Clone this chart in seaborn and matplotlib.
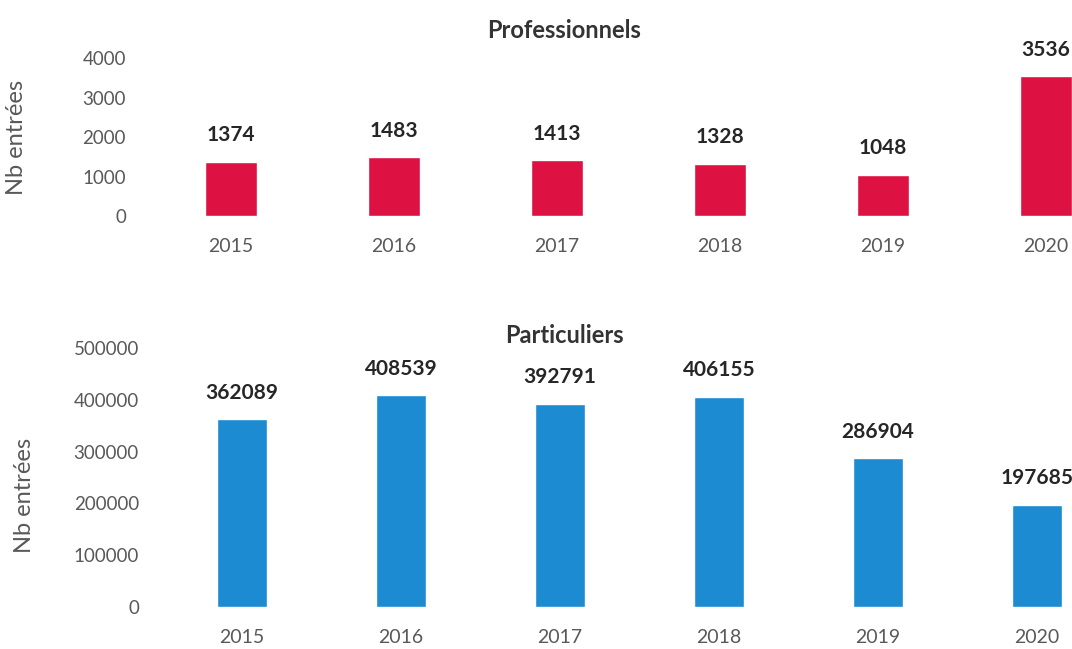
import matplotlib
matplotlib.use("Agg")
import matplotlib.pyplot as plt
import seaborn as sns

years = ["2015", "2016", "2017", "2018", "2019", "2020"]
pro_values = [1374, 1483, 1413, 1328, 1048, 3536]
part_values = [362089, 408539, 392791, 406155, 286904, 197685]
pro_ticks = [0, 1000, 2000, 3000, 4000]
part_ticks = [0, 100000, 200000, 300000, 400000, 500000]

sns.set_theme(style="white")
plt.rcParams['font.family'] = ['Lato', 'DejaVu Sans']

W, H = 1072, 649
fig = plt.figure(figsize=(W / 100, H / 100), dpi=100)

RED = "#DE1242"
BLUE = "#1C8BD2"
TICK = "#595959"
DARK = "#262626"


def make_axes(left_px, top_px, bottom_px, spacing_px):
    ax = fig.add_axes([left_px / W, 1 - bottom_px / H, (W - left_px) / W, (bottom_px - top_px) / H])
    return ax, -0.5 + (W - left_px) / spacing_px


def draw(ax, xmax, values, ticks, color, title, title_y, ylab_xy, width):
    sns.barplot(x=years, y=values, color=color, width=width, ax=ax, saturation=1)
    ax.set_xlim(-0.5, xmax)
    ax.set_ylim(ticks[0], ticks[-1])
    ax.set_yticks(ticks)
    ax.set_yticklabels([str(t) for t in ticks])
    for s in ax.spines.values():
        s.set_visible(False)
    ax.tick_params(axis="y", length=0, pad=17, labelsize=13.5, labelcolor=TICK)
    ax.tick_params(axis="x", length=0, pad=16, labelsize=14, labelcolor=TICK)
    ax.set_xlabel("")
    ax.set_ylabel("Nb entrées", fontsize=17, color=TICK)
    ax.yaxis.set_label_coords(*ylab_xy)
    for i, v in enumerate(values):
        ax.annotate(str(v), xy=(i, v), xytext=(0, 19), textcoords="offset points",
                    ha="center", va="center", fontsize=15, fontweight="bold",
                    color=DARK, annotation_clip=False)
    fig.text(564 / W, 1 - title_y / H, title, ha="center", va="center",
             fontsize=17, fontweight="bold", color="#333333")
    ax.grid(False)


ax1, xm1 = make_axes(149.5, 58, 216, 163)
draw(ax1, xm1, pro_values, pro_ticks, RED, "Professionnels", 30, (-0.133, 0.5), 0.32)

ax2, xm2 = make_axes(162.5, 348, 607, 159)
draw(ax2, xm2, part_values, part_ticks, BLUE, "Particuliers", 335, (-0.14, 0.43), 0.31)

fig.savefig("out.png", dpi=100, facecolor="white")
